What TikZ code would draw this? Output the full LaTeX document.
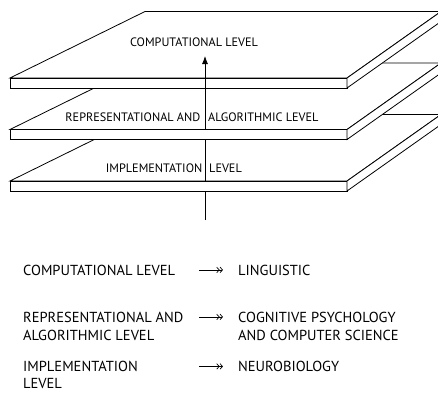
\documentclass[tikz,border=0pt]{standalone}
\usepackage{fontspec}
\setmainfont{PT Sans}
\usetikzlibrary{arrows.meta}

\begin{document}
\begin{tikzpicture}[x=1pt,y=1pt]
    % Setup the styles for the planes and the labels
        \tikzset{plane style/.style={draw=black,
                                     fill=white,
                                     line width=0.8pt,
                                     line join=miter},
                 plane label/.style={inner sep=0pt,
                                     font=\fontsize{12.2}{14}\selectfont},
                 list label/.style={inner sep=0pt,
                                    anchor=base west,
                                    font=\fontsize{14.5}{18}\selectfont},
                 axis line/.style={line width=0.8pt},
                 map arrow/.style={line width=0.7pt,
                                   -{Straight Barb[length=2.5pt,width=5.5pt] Straight Barb[length=2.5pt,width=5.5pt]}}}
        \useasboundingbox (0,0) rectangle (438,392);
        \clip (0,0) rectangle (438,392);
        % Draw the planes, lowest first
        \foreach \y/\lvl in {211/impl, 262.5/algo, 314/comp}{
            \filldraw[plane style] (10,\y) -- (347,\y) -- (441,\y+66.5) -- (145,\y+66.5) -- cycle;
            \filldraw[plane style] (10,\y) rectangle (347,\y-10);
            \filldraw[plane style] (347,\y) -- (441,\y+66.5) -- (441,\y+56.5) -- (347,\y-10) -- cycle;
            \coordinate (\lvl_top) at (205,\y);
            \coordinate (\lvl_bot) at (205,\y-10);
        }
        % Draw the axis through the planes
        \coordinate (axis_lo) at (205,172);
        \coordinate (axis_hi) at (205,336);
        \draw[axis line] (axis_lo) -- (impl_bot);
        \draw[axis line] (impl_top) -- (algo_bot);
        \draw[axis line, -{Latex[length=8pt,width=6pt]}] (algo_top) -- (axis_hi);
        % Label the planes
        \node[plane label, anchor=base] (comp_lbl) at (194,346) {COMPUTATIONAL LEVEL};
        \node[plane label, anchor=base east] (algo_lbl_l) at (200.5,270.5) {REPRESENTATIONAL AND};
        \node[plane label, anchor=base west] (algo_lbl_r) at (208,270.5) {ALGORITHMIC LEVEL};
        \node[plane label, anchor=base east] (impl_lbl_l) at (202.5,220) {IMPLEMENTATION};
        \node[plane label, anchor=base west] (impl_lbl_r) at (209,220) {LEVEL};
        % The levels and their fields
        \node[list label] (comp_item)  at (23,117)  {COMPUTATIONAL LEVEL};
        \node[list label] (algo_item)  at (23,70)   {REPRESENTATIONAL AND};
        \node[list label] (algo_item2) at (23,52)   {ALGORITHMIC LEVEL};
        \node[list label] (impl_item)  at (23,20.5) {IMPLEMENTATION};
        \node[list label] (impl_item2) at (23,4)    {LEVEL};
        \node[list label] (ling)  at (238,117)  {LINGUISTIC};
        \node[list label] (cog)   at (238,70)   {COGNITIVE PSYCHOLOGY};
        \node[list label] (cog2)  at (238,52)   {AND COMPUTER SCIENCE};
        \node[list label] (neuro) at (238,20.5) {NEUROBIOLOGY};
        % Connect each level to its field
        \draw[map arrow] ([xshift=-39pt]ling.west)  -- ([xshift=-15pt]ling.west);
        \draw[map arrow] ([xshift=-39pt]cog.west)   -- ([xshift=-15pt]cog.west);
        \draw[map arrow] ([xshift=-39pt]neuro.west) -- ([xshift=-15pt]neuro.west);
\end{tikzpicture}
\end{document}
